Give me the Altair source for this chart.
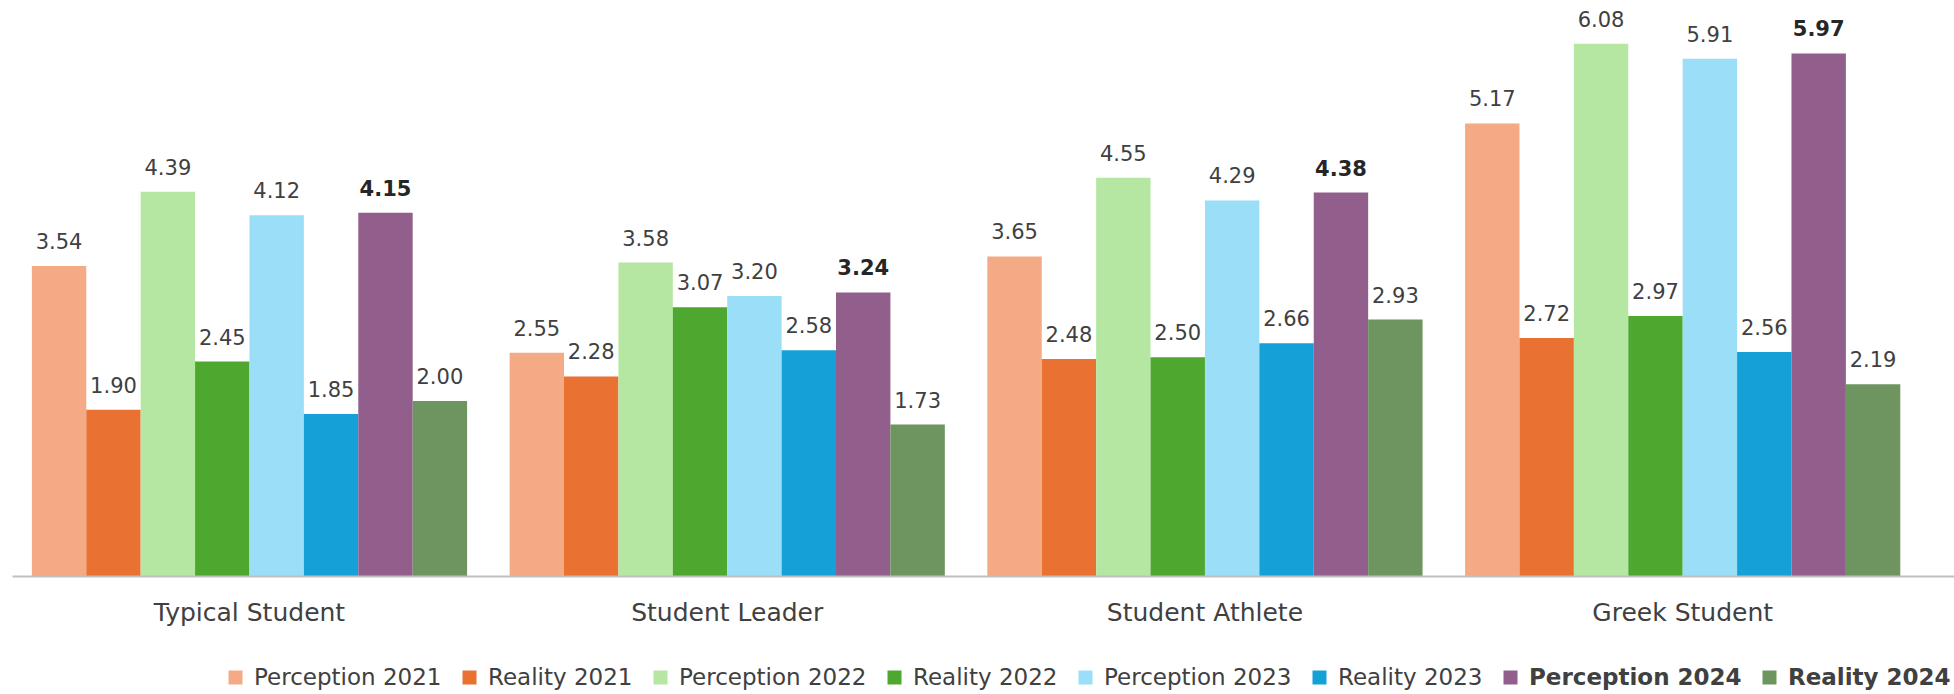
import altair as alt
import pandas as pd

categories = ["Typical Student", "Student Leader", "Student Athlete", "Greek Student"]
series = ["Perception 2021", "Reality 2021", "Perception 2022", "Reality 2022",
          "Perception 2023", "Reality 2023", "Perception 2024", "Reality 2024"]
colors = ["#F4AA84", "#E97132", "#B5E6A2", "#4EA72E",
          "#9ADEF8", "#15A0D8", "#925E8C", "#6E9460"]

typical = [3.54, 1.90, 4.39, 2.45, 4.12, 1.85, 4.15, 2.00]
leader = [2.55, 2.28, 3.58, 3.07, 3.20, 2.58, 3.24, 1.73]
athlete = [3.65, 2.48, 4.55, 2.50, 4.29, 2.66, 4.38, 2.93]
greek = [5.17, 2.72, 6.08, 2.97, 5.91, 2.56, 5.97, 2.19]

rows = []
for cat, vals in zip(categories, [typical, leader, athlete, greek]):
    for s, v in zip(series, vals):
        rows.append({"category": cat, "series": s, "value": v})
df = pd.DataFrame(rows)

FONT = "DejaVu Sans"
TXT = "#404040"

x_enc = alt.X(
    "category:N", sort=categories,
    scale=alt.Scale(paddingInner=0.089, paddingOuter=0.077, align=0.27),
    axis=alt.Axis(title=None, labelAngle=0, ticks=False, grid=False,
                  domainColor="#BFBFBF", domainWidth=2, labelFontSize=25,
                  labelFont=FONT, labelColor=TXT, labelPadding=24, zindex=1,
                  labelLimit=500),
)
xo_enc = alt.XOffset("series:N", sort=series)
y_enc = alt.Y("value:Q", scale=alt.Scale(domain=[0, 6.58], nice=False, zero=True), axis=None)

base = alt.Chart(df).encode(x=x_enc, xOffset=xo_enc, y=y_enc)

bars = base.mark_bar().encode(
    color=alt.Color(
        "series:N", sort=series,
        scale=alt.Scale(domain=series, range=colors),
        legend=alt.Legend(
            title=None, orient="none", legendX=212, legendY=666,
            direction="horizontal", columns=8, columnPadding=16,
            gridAlign="none", symbolType="square", symbolSize=196,
            symbolStrokeWidth=0, symbolOpacity=1, labelFontSize=23,
            labelFont=FONT, labelColor=TXT, labelOffset=7, labelLimit=400,
            padding=0,
            labelFontWeight={"expr": "indexof(datum.label, '2024') >= 0 ? 'bold' : 'normal'"},
        ),
    )
)

labels_normal = base.transform_filter(
    alt.datum.series != "Perception 2024"
).mark_text(dy=-17, baseline="alphabetic", fontSize=21, font=FONT, color=TXT).encode(
    text=alt.Text("value:Q", format=".2f")
)
labels_bold = base.transform_filter(
    alt.datum.series == "Perception 2024"
).mark_text(dy=-17, baseline="alphabetic", fontSize=21, font=FONT, color="#262626",
            fontWeight="bold").encode(
    text=alt.Text("value:Q", format=".2f")
)

chart = alt.layer(bars, labels_normal, labels_bold).properties(
    width=1942, height=576,
    autosize=alt.AutoSizeParams(type="none"),
    padding={"left": 12, "top": 0, "right": 0, "bottom": 118},
    background="white",
).configure_view(stroke=None)

chart.save("out.html", embed_options={"renderer": "svg", "actions": False})
